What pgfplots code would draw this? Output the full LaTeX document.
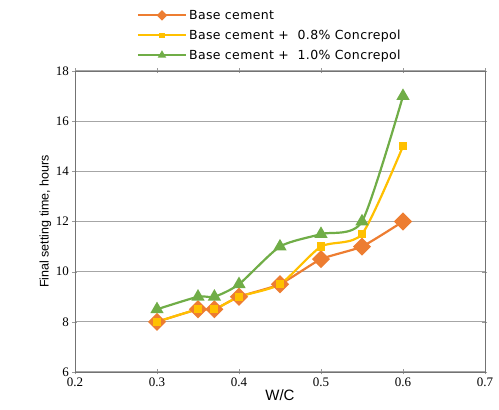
\documentclass[border=0pt]{standalone}
\usepackage{pgfplots}
\pgfplotsset{compat=1.18}
\usepackage{fontspec}
\setmainfont{Liberation Sans}
\newfontfamily\tickfont{Liberation Serif}
\newfontfamily\legfont[LetterSpace=3]{DejaVu Sans}

\definecolor{cOrange}{HTML}{ED7D31}
\definecolor{cYellow}{HTML}{FFC000}
\definecolor{cGreen}{HTML}{70AD47}

\begin{document}
\begin{tikzpicture}
\path (0pt,0pt) rectangle (499pt,410pt);
\begin{axis}[
    at={(75pt,38pt)}, anchor=south west,
    scale only axis,
    width=410pt, height=301pt,
    xmin=0.2, xmax=0.7,
    ymin=6, ymax=18,
    xtick={0.2,0.3,...,0.7},
    ytick={6,8,...,18},
    xticklabel style={/pgf/number format/fixed, /pgf/number format/precision=1},
    /pgf/number format/assume math mode=true,
    ticklabel style={font=\tickfont\fontsize{13}{15}\selectfont},
    tick align=center,
    major tick length=5pt,
    tick style={draw=gray!80},
    ymajorgrids=true,
    grid style={gray!70, line width=1pt},
    axis line style={gray!90!black},
    xlabel={W/C},
    ylabel={Final setting time, hours},
    label style={font=\fontsize{12.5}{15}\selectfont},
    xlabel style={font=\fontsize{15}{17}\selectfont, yshift=4pt},
    ylabel style={yshift=-2pt},
    legend cell align=left,
    legend style={at={(axis description cs:0.148,1.213)}, anchor=north west,
        draw=none, fill=none, font=\legfont\fontsize{12.5}{14}\selectfont,
        row sep=5pt, inner sep=1pt},
    legend image code/.code={\draw[mark repeat=2,mark phase=2,
        every mark/.append style={scale=0.5}]
        plot coordinates {(0pt,0pt)(24pt,0pt)(48pt,0pt)};},
]
\addplot[cOrange, line width=2.2pt, smooth, tension=0.3, mark=square*,
    mark size=5.3pt, mark options={solid, rotate=45}] coordinates {
    (0.30,8)(0.35,8.5)(0.37,8.5)(0.40,9)(0.45,9.5)(0.50,10.5)(0.55,11)(0.60,12)};
\addlegendentry{Base cement}
\addplot[cYellow, line width=2.2pt, smooth, tension=0.4, mark=square*,
    mark size=3pt] coordinates {
    (0.30,8)(0.35,8.5)(0.37,8.5)(0.40,9)(0.45,9.5)(0.50,11)(0.55,11.5)(0.60,15)};
\addlegendentry{Base cement +\ \ 0.8\% Concrepol}
\addplot[cGreen, line width=2.2pt, smooth, tension=0.4, mark=triangle*,
    mark size=5.5pt] coordinates {
    (0.30,8.5)(0.35,9)(0.37,9)(0.40,9.5)(0.45,11)(0.50,11.5)(0.55,12)(0.60,17)};
\addlegendentry{Base cement +\ \ 1.0\% Concrepol}
\end{axis}
\end{tikzpicture}
\end{document}
